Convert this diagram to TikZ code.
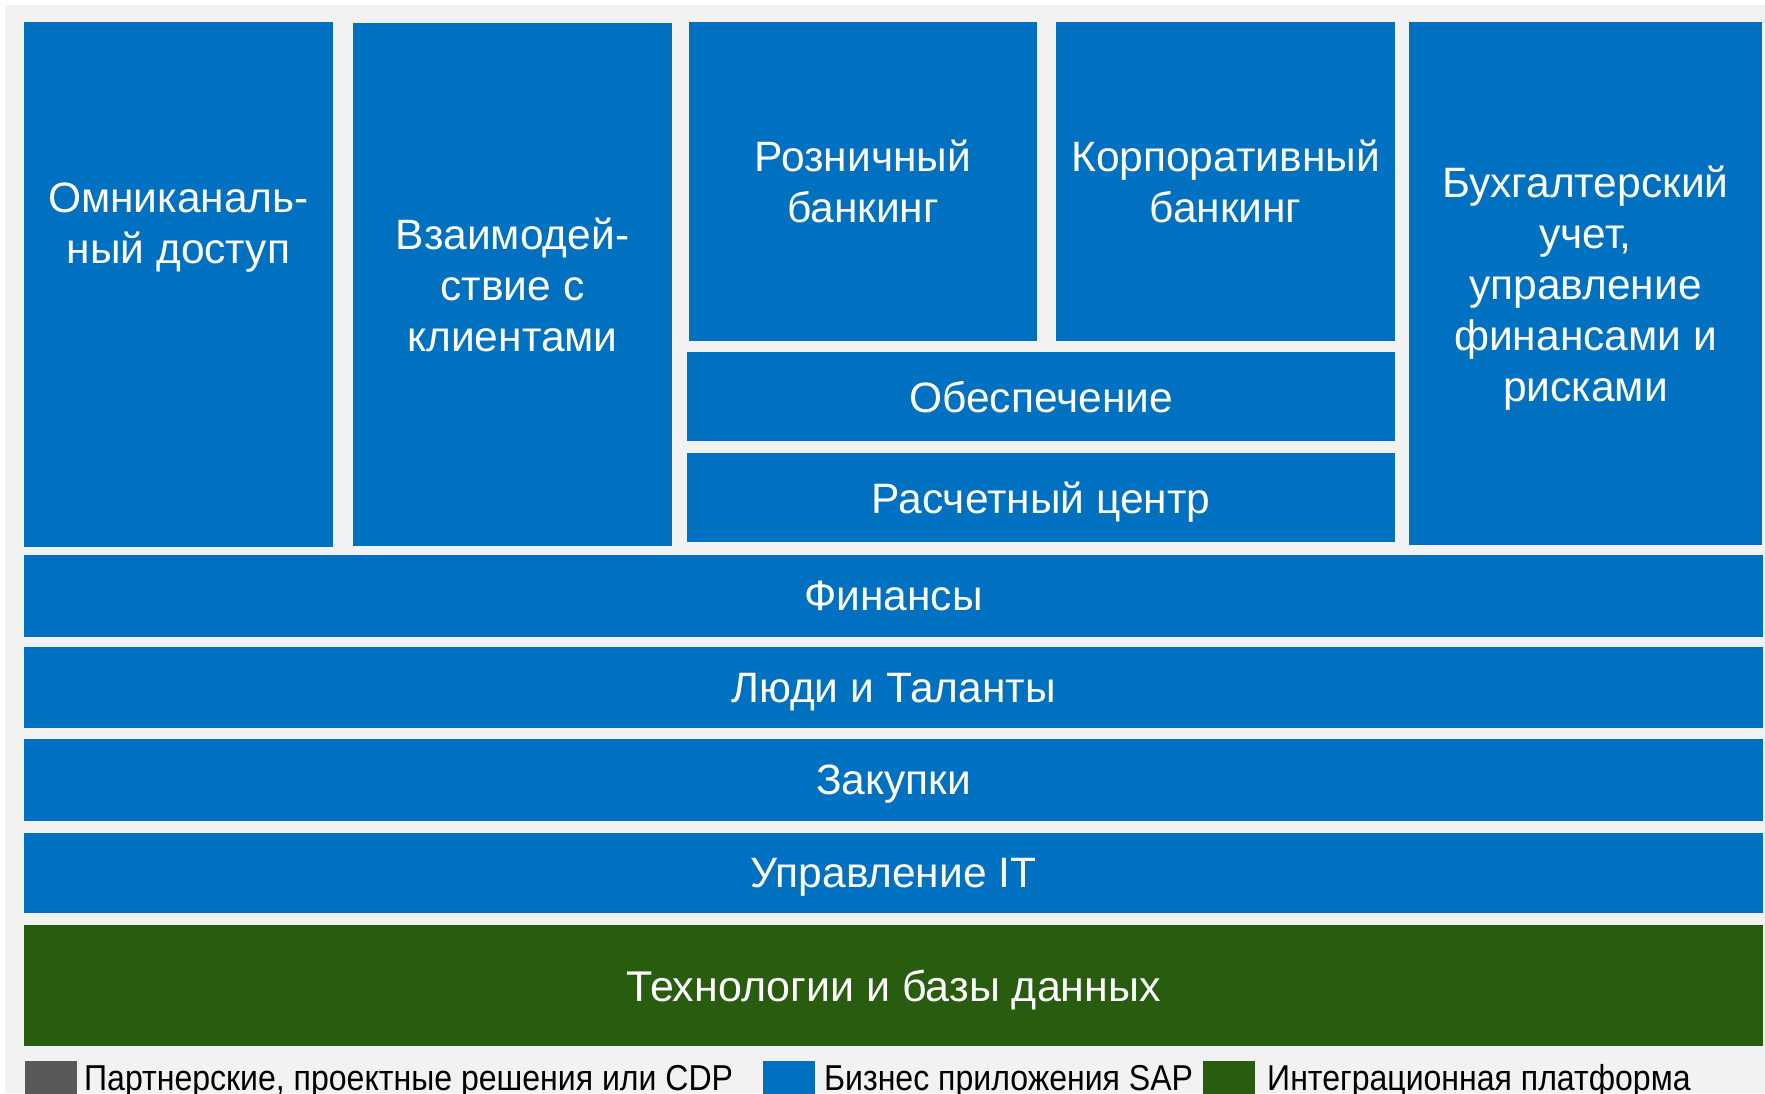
\documentclass[tikz,border=0pt]{standalone}
\usepackage{fontspec}
\setmainfont{Liberation Sans}
\newfontfamily\legendfont[FakeStretch=0.89]{Liberation Sans}
\definecolor{sapblue}{RGB}{0,112,192}
\definecolor{intgreen}{RGB}{40,92,14}
\definecolor{partgray}{RGB}{89,89,89}
\definecolor{bggray}{RGB}{242,242,242}
\tikzset{
  tile/.style={fill=sapblue, draw=none, inner sep=0pt, text=white, align=center,
    text depth=0pt, font=\fontsize{42.5}{51}\selectfont},
  tiletext/.style={inner sep=0pt, text=white, align=center, text depth=0pt,
    font=\fontsize{42.5}{51}\selectfont},
  keybox/.style={draw=none, inner sep=0pt, minimum size=52pt},
  keytext/.style={anchor=base west, inner sep=0pt, font=\legendfont\fontsize{36}{40}\selectfont}
}
\begin{document}
\begin{tikzpicture}[x=1pt,y=1pt,yscale=-1]
\useasboundingbox (0,0) rectangle (1765,1093);
%Shape: Rectangle (background)
\fill [bggray] (5,5) rectangle (1765,1093);

%Shape: Rectangle (upper tiles)
\node [tile, minimum width=309pt, minimum height=525pt] (omni) at (178.5,284.5) {};
\node [tiletext] (omnitext) at (178.5,223) {Омниканаль-\\ный доступ};
\node [tile, minimum width=319pt, minimum height=523pt] (crm) at (512.5,284.5) {Взаимодей-\\ствие с\\клиентами};
\node [tile, minimum width=348pt, minimum height=319pt] (retail) at (863,181.5) {Розничный\\банкинг};
\node [tile, minimum width=339pt, minimum height=319pt] (corporate) at (1225.5,181.5) {Корпоративный\\банкинг};
\node [tile, minimum width=353pt, minimum height=523pt] (accounting) at (1585.5,283.5) {Бухгалтерский\\учет,\\управление\\финансами и\\рисками};
\node [tile, minimum width=708pt, minimum height=89pt] (collateral) at (1041,396.5) {Обеспечение};
\node [tile, minimum width=708pt, minimum height=89pt] (settlement) at (1041,497.5) {Расчетный центр};

%Shape: Rectangle (full-width rows)
\node [tile, minimum width=1739pt, minimum height=82pt] (finance) at (893.5,596) {Финансы};
\node [tile, minimum width=1739pt, minimum height=81pt] (people) at (893.5,687.5) {Люди и Таланты};
\node [tile, minimum width=1739pt, minimum height=82pt] (procurement) at (893.5,780) {Закупки};
\node [tile, minimum width=1739pt, minimum height=80pt] (itmgmt) at (893.5,873) {Управление IT};
\node [tile, fill=intgreen, minimum width=1739pt, minimum height=121pt, font=\fontsize{43}{51}\selectfont] (tech) at (893.5,985.5) {Технологии и базы данных};

%Legend
\node [keybox, fill=partgray] (keypart) at (51,1087) {};
\node [keytext] (keyparttext) at (84,1090) {Партнерские, проектные решения или CDP};
\node [keybox, fill=sapblue] (keysap) at (789,1087) {};
\node [keytext] (keysaptext) at (824,1090) {Бизнес приложения SAP};
\node [keybox, fill=intgreen] (keyint) at (1228.5,1087) {};
\node [keytext] (keyinttext) at (1267,1090) {Интеграционная платформа};
\end{tikzpicture}
\end{document}
